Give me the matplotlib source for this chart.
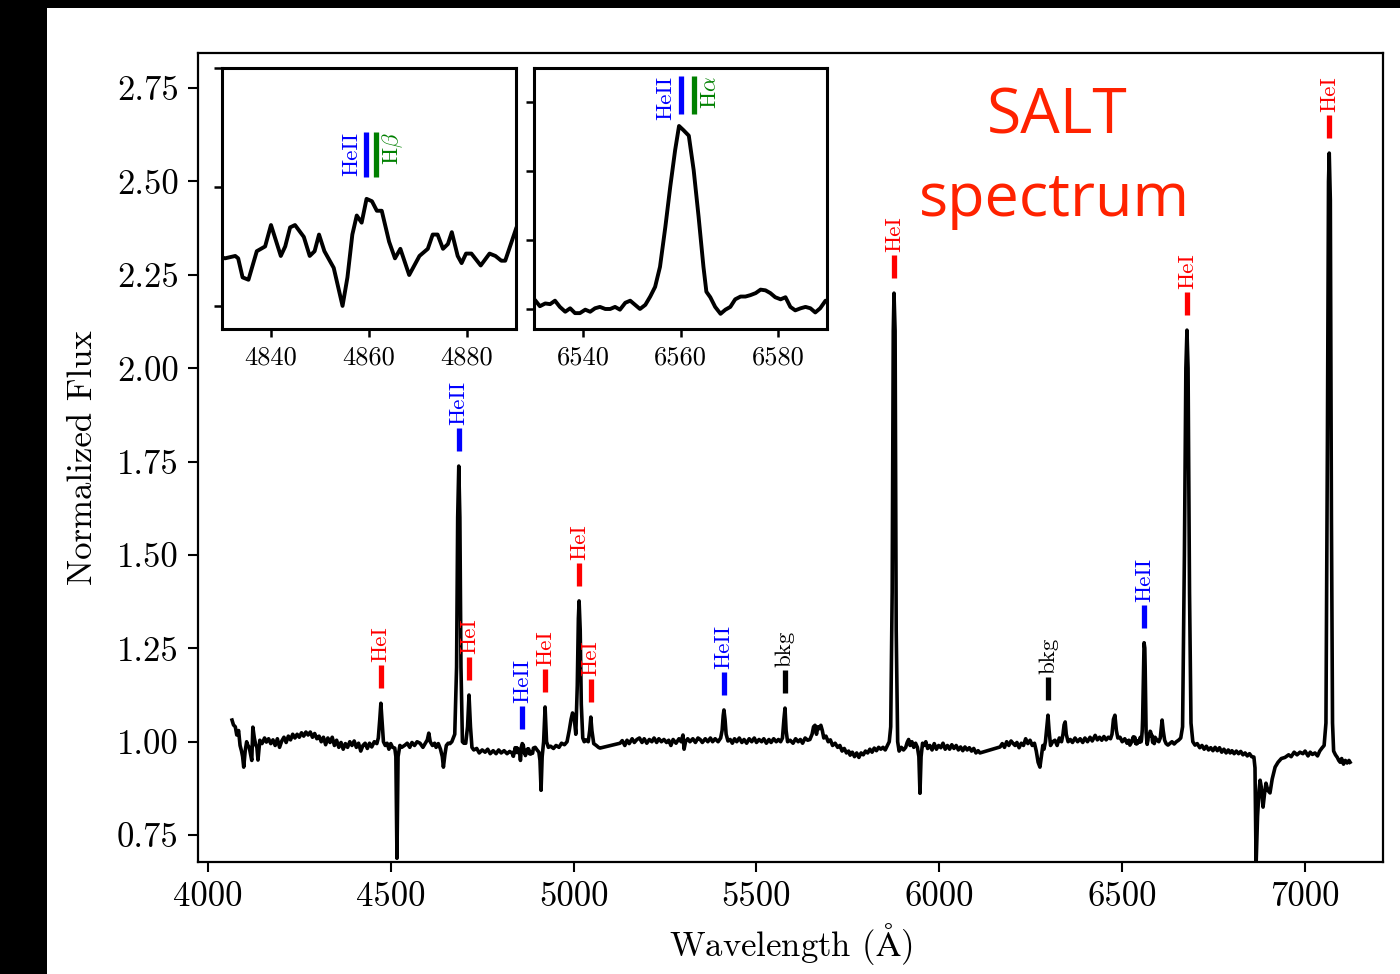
import matplotlib
matplotlib.use("Agg")
import matplotlib.pyplot as plt
from matplotlib.patches import Rectangle
import numpy as np

plt.rcParams['font.family'] = 'serif'
plt.rcParams['font.serif'] = ['cmr10']
plt.rcParams['mathtext.fontset'] = 'cm'
plt.rcParams['axes.unicode_minus'] = False

# normalized SALT spectrum (wavelength in A)
wave = [
    4066, 4070, 4075, 4079, 4084, 4088, 4092, 4095, 4098, 4102,
    4106, 4109, 4113, 4117, 4120, 4123, 4127, 4131, 4134, 4137,
    4142, 4148, 4155, 4160, 4166, 4172, 4178, 4184, 4190, 4196,
    4202, 4208, 4214, 4220, 4226, 4232, 4238, 4244, 4250, 4256,
    4262, 4268, 4274, 4280, 4286, 4292, 4298, 4304, 4310, 4316,
    4322, 4328, 4334, 4340, 4346, 4352, 4358, 4364, 4370, 4376,
    4382, 4388, 4394, 4400, 4406, 4412, 4418, 4424, 4430, 4436,
    4442, 4448, 4455, 4462, 4466, 4470, 4473, 4476, 4480, 4485,
    4490, 4495, 4500, 4505, 4511, 4514, 4517, 4520, 4525, 4530,
    4539, 4545, 4552, 4558, 4565, 4572, 4580, 4588, 4596, 4600,
    4604, 4608, 4614, 4620, 4624, 4630, 4636, 4641, 4644, 4648,
    4652, 4657, 4662, 4667, 4675, 4680, 4683, 4686, 4689, 4692,
    4696, 4700, 4705, 4710, 4714, 4718, 4722, 4727, 4735, 4742,
    4750, 4758, 4765, 4772, 4780, 4788, 4795, 4802, 4810, 4818,
    4825,
    4830.6, 4832.7, 4833.3, 4834.2, 4835.4, 4837.1, 4838.8, 4840.0, 4842.0, 4842.9,
    4843.9, 4844.9, 4846.7, 4847.9, 4848.9, 4849.8, 4850.9, 4852.8, 4854.6, 4855.6,
    4856.6, 4857.5, 4858.5, 4859.5, 4860.6, 4861.6, 4862.6, 4864.1, 4865.3, 4866.4,
    4868.2, 4870.3, 4872.0, 4873.0, 4874.0, 4875.1, 4876.1, 4876.9, 4878.1, 4878.9,
    4879.8, 4880.9, 4882.8, 4884.6, 4885.8, 4887.0, 4887.8, 4890.1,
    4895, 4900, 4905, 4908, 4911, 4914, 4918, 4922, 4926, 4931,
    4937, 4945, 4952, 4960, 4967, 4975, 4982, 4988, 4993, 4997,
    5001, 5006, 5010, 5013, 5015, 5018, 5021, 5025, 5029, 5033,
    5040, 5044, 5047, 5050, 5055, 5062, 5068, 5072,
    5127, 5133, 5140, 5146, 5152, 5160, 5166, 5173, 5180, 5187,
    5193, 5200, 5207, 5214, 5220, 5227, 5233, 5240, 5247, 5254,
    5260, 5266, 5272, 5280, 5288, 5294, 5299, 5302, 5306, 5312,
    5318, 5326, 5333, 5340, 5346, 5352, 5360, 5367, 5374, 5380,
    5387, 5395, 5402, 5406, 5409, 5411, 5414, 5417, 5422, 5428,
    5434, 5440, 5446, 5453, 5460, 5466, 5473, 5480, 5487, 5494,
    5500, 5507, 5514, 5520, 5527, 5534, 5540, 5547, 5554, 5560,
    5566, 5571, 5575, 5578, 5581, 5585, 5592, 5600, 5607, 5614,
    5620, 5626, 5633, 5640, 5646, 5652, 5656, 5660, 5664, 5668,
    5672, 5676, 5680, 5684, 5690, 5696, 5702, 5708, 5715, 5722,
    5728, 5734, 5740, 5746, 5752, 5756, 5762, 5768, 5774, 5780,
    5786, 5792, 5798, 5804, 5810, 5816, 5822, 5828, 5834, 5840,
    5846, 5852, 5858, 5863, 5867, 5871, 5874, 5876, 5879, 5882,
    5886, 5890, 5896, 5902, 5908, 5912, 5916, 5920, 5925, 5930,
    5935, 5940, 5944, 5947, 5950, 5954, 5958, 5963, 5968, 5974,
    5980, 5986, 5992, 5998, 6004, 6010, 6016, 6022, 6028, 6034,
    6040, 6046, 6052, 6058, 6064, 6070, 6076, 6082, 6088, 6094,
    6100, 6106, 6111,
    6166, 6172, 6178, 6184, 6190, 6196, 6202, 6207, 6212, 6218,
    6224, 6230, 6236, 6242, 6248, 6254, 6260, 6265, 6270, 6275,
    6279, 6283, 6286, 6290, 6294, 6297, 6300, 6304, 6310, 6316,
    6322, 6328, 6334, 6338, 6341, 6344, 6347, 6352, 6358, 6364,
    6371, 6378, 6385, 6392, 6398, 6405, 6412, 6418, 6426, 6432,
    6438, 6444, 6450, 6456, 6462, 6468, 6472, 6476, 6480, 6484,
    6488, 6494, 6500, 6507, 6513, 6518, 6521, 6526,
    6530.2, 6531.2, 6532.3, 6533.3, 6534.3, 6535.3, 6536.4, 6537.4, 6538.4, 6539.4,
    6540.5, 6541.5, 6542.5, 6543.5, 6544.6, 6545.6, 6546.6, 6547.6, 6548.7, 6549.7,
    6550.7, 6551.7, 6552.8, 6553.8, 6554.8, 6555.8, 6556.9, 6557.9, 6558.9, 6559.7,
    6560.6, 6561.7, 6562.7, 6563.7, 6564.7, 6565.3, 6566.1, 6567.1, 6568.2, 6569.2,
    6570.2, 6571.2, 6572.3, 6573.3, 6574.3, 6575.4, 6576.4, 6577.4, 6578.4, 6579.4,
    6580.5, 6581.5, 6582.5, 6583.5, 6584.6, 6585.6, 6586.6, 6587.6, 6588.6, 6589.7,
    6595, 6600, 6604, 6607, 6609, 6612, 6616, 6620, 6625, 6630,
    6636, 6642, 6648, 6654, 6660, 6665, 6670, 6674, 6677, 6680,
    6684, 6688, 6693, 6699, 6705, 6712, 6718, 6724, 6730, 6736,
    6742, 6748, 6754, 6760, 6766, 6772, 6778, 6784, 6790, 6795,
    6800, 6806, 6812, 6818, 6824, 6830, 6836, 6842, 6848, 6854,
    6860, 6863, 6866, 6870, 6874, 6877, 6880, 6885, 6889, 6893,
    6898, 6904, 6910, 6918, 6926, 6935, 6945, 6955, 6962, 6970,
    6978, 6986, 6994, 7000, 7008, 7014, 7020, 7027, 7034, 7040,
    7046, 7052, 7057, 7061, 7064, 7066, 7069, 7072, 7075, 7078,
    7083, 7088, 7092, 7096, 7100, 7105, 7110, 7115, 7120, 7123,
]

flux = [
    1.058, 1.045, 1.040, 1.018, 1.030, 0.990, 0.975, 0.960, 0.932, 0.975,
    1.000, 0.991, 0.985, 0.965, 0.950, 1.039, 1.010, 0.991, 0.985, 0.951,
    1.004, 0.995, 1.010, 0.999, 1.008, 0.995, 1.005, 0.990, 1.008, 0.985,
    1.002, 1.012, 0.998, 1.015, 1.005, 1.020, 1.010, 1.020, 1.012, 1.024,
    1.015, 1.026, 1.018, 1.026, 1.012, 1.022, 1.008, 1.015, 1.000, 1.012,
    0.992, 1.010, 0.998, 1.012, 0.990, 1.004, 0.985, 0.998, 0.980, 0.995,
    0.985, 1.000, 0.990, 1.002, 0.985, 0.996, 0.975, 0.990, 0.996, 0.982,
    0.996, 0.986, 1.000, 0.995, 1.010, 1.060, 1.103, 1.060, 1.000, 0.990,
    0.996, 0.980, 0.995, 0.985, 0.983, 0.960, 0.688, 0.960, 0.990, 0.985,
    0.991, 0.996, 0.985, 0.998, 0.990, 1.000, 0.996, 0.985, 0.998, 1.005,
    1.023, 1.000, 0.990, 0.996, 0.985, 0.995, 0.980, 0.960, 0.932, 0.965,
    0.990, 0.996, 0.995, 1.000, 1.020, 1.200, 1.600, 1.738, 1.600, 1.200,
    1.000, 0.996, 0.996, 1.040, 1.125, 1.040, 0.985, 0.978, 0.982, 0.970,
    0.978, 0.972, 0.980, 0.968, 0.976, 0.968, 0.978, 0.970, 0.976, 0.968,
    0.974,
    0.970, 0.971, 0.970, 0.962, 0.961, 0.973, 0.975, 0.984, 0.971, 0.975,
    0.983, 0.984, 0.979, 0.971, 0.973, 0.980, 0.973, 0.966, 0.950, 0.962,
    0.980, 0.988, 0.985, 0.995, 0.994, 0.990, 0.990, 0.977, 0.970, 0.974,
    0.963, 0.971, 0.974, 0.980, 0.980, 0.974, 0.976, 0.981, 0.971, 0.968,
    0.972, 0.972, 0.967, 0.972, 0.971, 0.969, 0.969, 0.983,
    0.985, 0.978, 0.972, 0.950, 0.870, 0.960, 1.000, 1.093, 1.000, 0.985,
    0.988, 0.982, 0.990, 0.985, 0.996, 0.992, 1.000, 1.030, 1.060, 1.077,
    1.070, 1.020, 1.150, 1.330, 1.377, 1.300, 1.100, 1.010, 1.000, 1.005,
    1.000, 1.030, 1.066, 1.030, 0.995, 0.990, 0.985, 0.983,
    0.996, 1.003, 0.990, 1.004, 0.995, 1.008, 0.998, 1.006, 1.010, 0.998,
    1.008, 0.996, 1.006, 1.000, 1.010, 0.998, 1.008, 1.000, 1.006, 0.998,
    1.004, 0.990, 1.006, 0.996, 1.008, 1.000, 1.018, 0.980, 1.000, 1.008,
    1.000, 1.008, 0.998, 1.010, 1.006, 0.998, 1.008, 1.000, 1.010, 1.000,
    1.008, 1.000, 1.010, 1.030, 1.070, 1.085, 1.060, 1.020, 1.002, 1.006,
    0.996, 1.008, 1.000, 1.010, 0.998, 1.006, 0.996, 1.008, 1.000, 1.010,
    0.998, 1.006, 1.000, 1.008, 0.996, 1.006, 0.998, 1.008, 1.000, 1.006,
    1.000, 1.010, 1.060, 1.090, 1.030, 1.000, 1.004, 0.996, 1.008, 1.000,
    1.006, 0.996, 1.010, 1.004, 1.006, 1.020, 1.040, 1.044, 1.020, 1.040,
    1.035, 1.044, 1.030, 1.010, 1.015, 1.000, 1.005, 0.990, 0.996, 0.985,
    0.990, 0.975, 0.982, 0.970, 0.975, 0.964, 0.972, 0.960, 0.970, 0.958,
    0.970, 0.965, 0.975, 0.970, 0.980, 0.972, 0.983, 0.976, 0.985, 0.980,
    0.985, 0.978, 0.990, 1.000, 1.040, 1.400, 2.100, 2.201, 2.100, 1.300,
    1.000, 0.975, 0.985, 0.978, 0.985, 0.998, 1.006, 0.990, 1.000, 0.985,
    0.996, 0.985, 0.960, 0.862, 0.960, 0.996, 0.990, 1.000, 0.982, 0.990,
    0.978, 0.995, 0.980, 0.990, 0.984, 0.996, 0.980, 0.990, 0.980, 0.992,
    0.982, 0.990, 0.978, 0.986, 0.976, 0.986, 0.978, 0.984, 0.975, 0.982,
    0.970, 0.976, 0.970,
    0.986, 0.995, 0.985, 1.000, 0.990, 1.002, 0.995, 0.990, 0.998, 0.984,
    0.996, 0.990, 1.008, 0.995, 1.004, 0.990, 0.996, 0.975, 0.945, 0.932,
    0.960, 0.990, 0.980, 1.000, 1.040, 1.071, 1.030, 0.990, 1.000, 1.004,
    0.990, 1.010, 1.000, 1.020, 1.045, 1.053, 1.020, 1.000, 1.006, 0.998,
    1.010, 1.000, 1.008, 0.998, 1.010, 1.000, 1.012, 1.002, 1.017, 1.005,
    1.012, 1.004, 1.014, 1.005, 1.012, 1.008, 1.020, 1.060, 1.071, 1.030,
    1.010, 1.012, 1.000, 1.008, 0.996, 1.004, 0.991, 1.000,
    1.013, 1.004, 1.008, 1.007, 1.012, 1.003, 0.996, 1.001, 0.994, 0.994,
    0.999, 0.996, 1.001, 1.003, 1.000, 1.000, 1.003, 0.999, 1.009, 1.012,
    1.006, 1.000, 1.006, 1.018, 1.032, 1.061, 1.119, 1.177, 1.230, 1.265,
    1.259, 1.251, 1.201, 1.134, 1.061, 1.025, 1.017, 1.003, 0.993, 0.999,
    1.003, 1.014, 1.018, 1.018, 1.020, 1.023, 1.028, 1.027, 1.023, 1.017,
    1.014, 1.017, 1.003, 0.998, 1.001, 1.003, 1.001, 0.995, 1.001, 1.012,
    1.004, 1.000, 1.010, 1.040, 1.058, 1.030, 1.004, 0.995, 0.991, 0.995,
    1.000, 0.994, 1.000, 1.004, 1.010, 1.040, 1.500, 2.000, 2.102, 2.000,
    1.400, 1.050, 1.000, 0.991, 0.995, 0.984, 0.990, 0.980, 0.988, 0.978,
    0.984, 0.976, 0.985, 0.976, 0.984, 0.972, 0.980, 0.970, 0.978, 0.970,
    0.976, 0.968, 0.975, 0.968, 0.974, 0.965, 0.970, 0.962, 0.968, 0.960,
    0.959, 0.930, 0.670, 0.800, 0.870, 0.897, 0.880, 0.825, 0.860, 0.889,
    0.870, 0.863, 0.900, 0.932, 0.945, 0.955, 0.958, 0.965, 0.960, 0.972,
    0.965, 0.972, 0.968, 0.975, 0.962, 0.972, 0.966, 0.970, 0.962, 0.975,
    0.983, 0.990, 1.050, 1.800, 2.500, 2.576, 2.450, 1.600, 1.050, 0.975,
    0.965, 0.958, 0.950, 0.945, 0.955, 0.940, 0.950, 0.943, 0.950, 0.945,
]

# identified lines in the main panel
line_wave = [4472, 4686, 4714, 4859, 4922, 5016, 5047, 5411, 5578, 5876, 6298, 6560, 6678, 7066]
line_name = ['HeI', 'HeII', 'HeI', 'HeII', 'HeI', 'HeI', 'HeI', 'HeII', 'bkg', 'HeI', 'bkg', 'HeII', 'HeI', 'HeI']
species_color = {'HeI': 'red', 'HeII': 'blue', 'bkg': 'black'}

# inset line markers
hbeta_marks = [(4859.4, 'HeII', 'blue'), (4861.4, r'H$\beta$', 'green')]
halpha_marks = [(6560.1, 'HeII', 'blue'), (6562.8, r'H$\alpha$', 'green')]

xticks_main = [4000, 4500, 5000, 5500, 6000, 6500, 7000]
yticks_main = [0.75, 1.00, 1.25, 1.50, 1.75, 2.00, 2.25, 2.50, 2.75]

wave = np.array(wave, dtype=float)
flux = np.array(flux, dtype=float)
assert len(wave) == len(flux)

fig = plt.figure(figsize=(14, 9.74), dpi=100)
fig.patch.set_facecolor('white')
# black screen border of the screenshot
fig.patches.append(Rectangle((0, 0), 47 / 1400, 1, transform=fig.transFigure,
                             facecolor='black', edgecolor='none', zorder=0))
fig.patches.append(Rectangle((0, 1 - 8 / 974), 1, 8 / 974, transform=fig.transFigure,
                             facecolor='black', edgecolor='none', zorder=0))

ax = fig.add_axes([198 / 1400, 112 / 974, 1185 / 1400, 809 / 974])
ax.plot(wave, flux, color='black', lw=2.6)
ax.set_xlim(3973, 7213)
ax.set_ylim(0.678, 2.844)
ax.set_xticks(xticks_main)
ax.set_xticklabels([str(t) for t in xticks_main])
ax.set_yticks(yticks_main)
ax.set_yticklabels(['%.2f' % t for t in yticks_main])
ax.tick_params(direction='out', length=7, width=1.5, labelsize=25, pad=7)
for s in ax.spines.values():
    s.set_linewidth(1.6)
ax.set_xlabel(r'Wavelength ($\mathrm{\AA}$)', fontsize=25, labelpad=6)
ax.set_ylabel('Normalized Flux', fontsize=25, labelpad=13)

bar_len = 0.062
for w, name in zip(line_wave, line_name):
    c = species_color[name]
    near = (wave > w - 10) & (wave < w + 10)
    y0 = flux[near].max() + 0.04
    ax.plot([w, w], [y0, y0 + bar_len], color=c, lw=3.8, solid_capstyle='butt')
    ax.text(w, y0 + bar_len + 0.008, name, rotation=90, ha='center', va='bottom',
            color=c, fontsize=16.5)

fig.text(1057 / 1400, 1 - 117 / 974, 'SALT', color='#ff2200', fontsize=45,
         family='Open Sans', ha='center', va='center')
fig.text(1055 / 1400, 1 - 200 / 974, 'spectrum', color='#ff2200', fontsize=44,
         family='Open Sans', ha='center', va='center')


def inset(rect, xlim, ylim, yticks, xticks, marks, bar_lo, bar_hi, dx):
    a = fig.add_axes(rect)
    a.plot(wave, flux, color='black', lw=2.8)
    a.set_xlim(*xlim)
    a.set_ylim(*ylim)
    a.set_yticks(yticks)
    a.set_yticklabels([])
    a.set_xticks(xticks)
    a.set_xticklabels([str(t) for t in xticks])
    a.tick_params(direction='out', length=6, width=1.8, labelsize=19, pad=6)
    for s in a.spines.values():
        s.set_linewidth(2.2)
    for (w, lab, c), side in zip(marks, ['right', 'left']):
        a.plot([w, w], [bar_lo, bar_hi], color=c, lw=3.8, solid_capstyle='butt')
        off = -dx if side == 'right' else dx
        a.text(w + off, bar_hi, lab, rotation=90, ha=side, va='top', color=c, fontsize=16.5)
    return a


inset([222 / 1400, 645 / 974, 294 / 1400, 261 / 974], (4830, 4890), (0.9403, 1.05),
      [0.95, 1.00, 1.05], [4840, 4860, 4880], hbeta_marks, 1.004, 1.023, 1.0)
inset([534 / 1400, 645 / 974, 293 / 1400, 261 / 974], (6530, 6590), (0.971, 1.349),
      [1.0, 1.1, 1.2, 1.3], [6540, 6560, 6580], halpha_marks, 1.283, 1.338, 1.2)

fig.savefig('out.png', dpi=100, facecolor='white')
